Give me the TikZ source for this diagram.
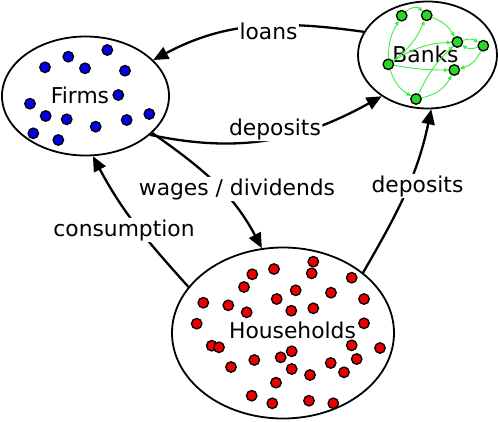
\documentclass[tikz,border=0pt]{standalone}
\usepackage{fontspec}
\setmainfont{DejaVu Sans}
\usetikzlibrary{shapes.geometric,arrows.meta}
\definecolor{fblue}{RGB}{0,0,230}
\definecolor{hred}{RGB}{235,0,0}
\definecolor{bgreen}{RGB}{40,215,40}
\definecolor{edgegreen}{RGB}{60,240,60}
\begin{document}
\begin{tikzpicture}[x=1pt,y=1pt,
  every node/.style={font=\fontsize{21.8}{26}\selectfont},
  group/.style={ellipse,draw,line width=1.8pt,inner sep=0pt},
  dotbase/.style={circle,draw,line width=1.3pt,minimum size=10.5pt,inner sep=0pt},
  fdot/.style={dotbase,fill=fblue},
  hdot/.style={dotbase,fill=hred},
  bdot/.style={dotbase,fill=bgreen},
  flow/.style={line width=2.3pt,-{Triangle[length=15pt,width=13pt]}},
  bedge/.style={draw=edgegreen,line width=0.9pt,-{Triangle[length=4.5pt,width=4pt]}},
  tag/.style={fill=white,inner sep=1.5pt,rounded corners=4pt},
  title/.style={inner sep=0pt}
]
\useasboundingbox (0,0) rectangle (498,-421);
% groups
\node[group,minimum width=167pt,minimum height=119pt] (firms) at (85.5,-96) {};
\node[group,minimum width=139pt,minimum height=107pt] (banks) at (427.5,-55) {};
\node[group,minimum width=222pt,minimum height=171pt] (hh) at (283,-333) {};
% titles
\node[title] (firmsT) at (80,-95) {Firms};
\node[title] (banksT) at (425.5,-54) {Banks};
\node[title] (hhT) at (292.5,-330) {Households};
% firm dots
\foreach \p [count=\i] in {{107.3,-50},{68.3,-56.7},{45,-67.3},{85,-68.3},{125,-70.7},{118.3,-95},{30,-103.7},{45.7,-116},{66.7,-119.3},{149.3,-114},{126.7,-120},{95.7,-126.7},{33.3,-133.3},{58.3,-140}}
  \node[fdot] (f\i) at (\p) {};
% household dots
\foreach \p [count=\i] in {{313.3,-261.7},{274,-269},{252.3,-274.3},{311.7,-273.3},{351.7,-277.7},{244,-287},{295.7,-290.3},{331,-292.7},{203.3,-302.7},{228.3,-305.3},{276.7,-299},{364,-299},{246.7,-312.3},{291.3,-310.7},{313.3,-308.3},{196.7,-323.7},{364,-323.3},{211.7,-345.7},{219,-347.3},{351.7,-345.3},{380,-348},{291.7,-351.3},{280.7,-357.3},{254.3,-360},{356.7,-359},{231,-367},{291.7,-369},{330.7,-363},{310,-375},{344,-372.3},{276,-382.7},{251.7,-395.7},{272.3,-403.3},{309,-400.7},{333.3,-403.3}}
  \node[hdot] (h\i) at (\p) {};
% bank network (drawn under the bank dots)
\coordinate (cb1) at (401.7,-15.7);
\coordinate (cb2) at (426.7,-15.3);
\coordinate (cb3) at (457.3,-42);
\coordinate (cb4) at (483.3,-45.7);
\coordinate (cb5) at (388.3,-64.3);
\coordinate (cb6) at (454.3,-70);
\coordinate (cb7) at (416,-99);
\node[bdot] (b1) at (cb1) {};
\node[bdot] (b2) at (cb2) {};
\node[bdot] (b3) at (cb3) {};
\node[bdot] (b4) at (cb4) {};
\node[bdot] (b5) at (cb5) {};
\node[bdot] (b6) at (cb6) {};
\node[bdot] (b7) at (cb7) {};
\draw[bedge] (b1) to[bend left=45] (b2);
\draw[bedge] (b5) to[bend left=15] (b1);
\draw[bedge] (b5) to[bend right=15] (b2);
\draw[bedge] (b2) to[bend left=20] (b3);
\draw[bedge] (b5) to[bend left=15] (b3);
\draw[bedge] (b3) to[bend left=25] (b4);
\draw[bedge] (b4) to[bend left=25] (b3);
\draw[bedge] (b4) to[bend left=25] (b6);
\draw[bedge] (b5) to[bend right=5] (b6);
\draw[bedge] (b5) to[bend right=20] (b7);
\draw[bedge] (b7) to[bend right=25] (b6);
\draw[bedge] (b7) to[bend left=10] (b3);
% flows
\draw[flow] (banks.160) to[out=172,in=28] (firms.28);
\draw[flow] (firms.-31) to[out=-12,in=209] (banks.222);
\draw[flow] (firms.-29) to[out=-35,in=118] (hh.104);
\draw[flow] (hh.154) to[out=132,in=-62] (firms.-83);
\draw[flow] (hh.37) to[out=60,in=-102] (banks.-86);
% flow labels
\node[tag] (lLoans) at (268.5,-31) {loans};
\node[tag] (lDepF) at (275,-129) {deposits};
\node[tag] (lWages) at (237,-189) {wages / dividends};
\node[tag] (lCons) at (124,-230) {consumption};
\node[tag] (lDepH) at (417.5,-186) {deposits};
\end{tikzpicture}
\end{document}
